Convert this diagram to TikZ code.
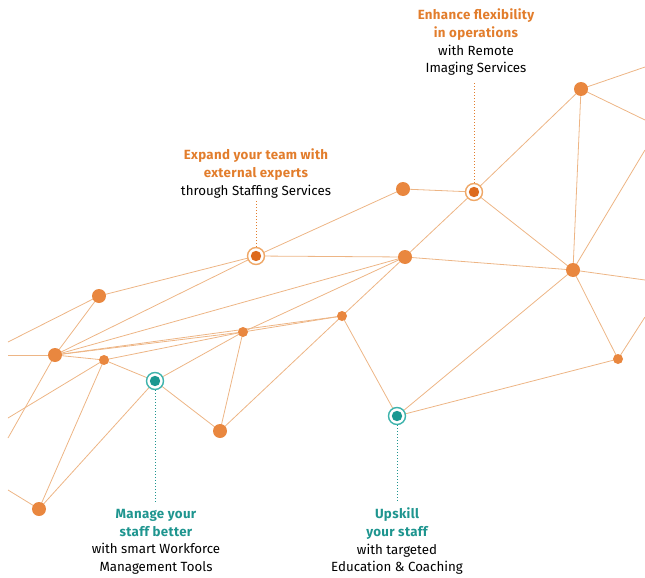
\documentclass[tikz,border=0pt]{standalone}
\usepackage{fontspec}
\setmainfont{Fira Sans}
\definecolor{dotO}{HTML}{E9873F}
\definecolor{innerO}{HTML}{DD6A1E}
\definecolor{ringO}{HTML}{EFA766}
\definecolor{edgeO}{HTML}{EDB585}
\definecolor{teal1}{HTML}{1A9891}
\definecolor{ringT}{HTML}{3DB3AC}
\definecolor{hlO}{HTML}{E27D2C}
\definecolor{hlT}{HTML}{1E958F}
\newcommand{\hdO}[1]{\textcolor{hlO}{\addfontfeatures{LetterSpace=2.5}\bfseries #1}}
\newcommand{\hdT}[1]{\textcolor{hlT}{\addfontfeatures{LetterSpace=2.5}\bfseries #1}}
\tikzset{
  bigdot/.style={circle,fill=dotO,inner sep=0pt,minimum size=14pt},
  smalldot/.style={circle,fill=dotO,inner sep=0pt,minimum size=10pt},
  ringo/.style={circle,draw=ringO,line width=1.4pt,fill=white,inner sep=0pt,minimum size=17pt,
    path picture={\fill[innerO] (path picture bounding box.center) circle (5.2pt);}},
  ringt/.style={circle,draw=ringT,line width=1.4pt,fill=white,inner sep=0pt,minimum size=17pt,
    path picture={\fill[teal1] (path picture bounding box.center) circle (5.2pt);}},
  edge/.style={draw=edgeO,line width=0.8pt},
  lbl/.style={align=center,inner sep=0pt,anchor=north,font=\fontsize{13.3}{17.6}\selectfont},
  dotlineO/.style={draw=hlO,line width=1pt,dotted},
  dotlineT/.style={draw=hlT,line width=1pt,dotted}
}
\begin{document}
\begin{tikzpicture}[x=1pt,y=-1pt]
\useasboundingbox (0,0) rectangle (645,578);
\coordinate (eA1) at (645,67);
\coordinate (eA2) at (645,120);
\coordinate (eE1) at (645,150);
\coordinate (eE2) at (645,280);
\coordinate (eO1) at (645,317);
\coordinate (eG) at (8,342);
\coordinate (eH1) at (8,355);
\coordinate (eH2) at (8,438);
\coordinate (eI) at (8,418);
\coordinate (eP) at (8,490);
\path (581,89) coordinate (pA) (474,192) coordinate (pB) (403,189) coordinate (pC)
      (405,257) coordinate (pD) (573,270) coordinate (pE) (256,256) coordinate (pF)
      (99,296) coordinate (pG) (55,355) coordinate (pH) (104,360) coordinate (pI)
      (243,332) coordinate (pJ) (342,316) coordinate (pK) (155,381) coordinate (pL)
      (220,431) coordinate (pM) (397,416) coordinate (pN) (618,359) coordinate (pO)
      (39,509) coordinate (pP);
\foreach \a/\b in {pA/eA1,pA/eA2,pA/pB,pA/pE,pE/eE1,pE/eE2,pE/pO,pO/eO1,
  pB/pC,pB/pD,pB/pE,pC/pF,pF/pD,pD/pE,pE/pN,pN/pO,pD/pK,pK/pN,pK/pM,pJ/pM,
  pJ/pK,pJ/pD,pL/pM,pL/pJ,pI/pL,pI/pJ,pH/pI,pH/pJ,pH/pK,pH/pD,pH/pF,pG/pF,
  pG/pH,pG/eG,pH/eH1,pH/eH2,pI/eI,pI/pP,pL/pP,pP/eP}
  \draw[edge] (\a) -- (\b);
\node[bigdot] (A) at (pA) {};
\node[ringo] (B) at (pB) {};
\node[bigdot] (C) at (pC) {};
\node[bigdot] (D) at (pD) {};
\node[bigdot] (E) at (pE) {};
\node[ringo] (F) at (pF) {};
\node[bigdot] (G) at (pG) {};
\node[bigdot] (H) at (pH) {};
\node[smalldot] (I) at (pI) {};
\node[smalldot] (J) at (pJ) {};
\node[smalldot] (K) at (pK) {};
\node[ringt] (L) at (pL) {};
\node[bigdot] (M) at (pM) {};
\node[ringt] (N) at (pN) {};
\node[smalldot] (O) at (pO) {};
\node[bigdot] (P) at (pP) {};
\node[lbl] (lB) at (476,9) {\hdO{Enhance flexibility}\\\hdO{in operations}\\with Remote\\Imaging Services};
\node[lbl] (lF) at (256,149) {\hdO{Expand your team with}\\\hdO{external experts}\\through Staffing Services};
\node[lbl] (lL) at (156,509) {\hdT{Manage your}\\\hdT{staff better}\\with smart Workforce\\Management Tools};
\node[lbl] (lN) at (397,508) {\hdT{Upskill}\\\hdT{your staff}\\with targeted\\Education \& Coaching};
\draw[dotlineO] (B.north) -- (B.north |- 0,83);
\draw[dotlineO] (F.north) -- (F.north |- 0,201);
\draw[dotlineT] (L.south) -- (L.south |- 0,504);
\draw[dotlineT] (N.south) -- (N.south |- 0,503);
\end{tikzpicture}
\end{document}
